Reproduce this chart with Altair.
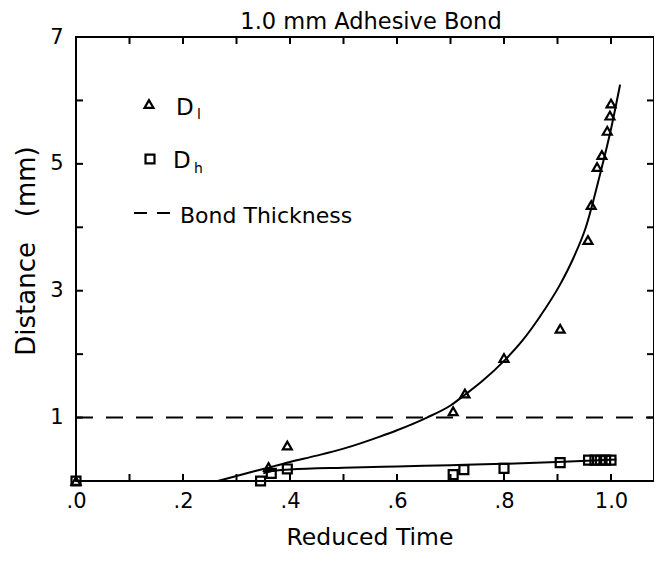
import altair as alt
import pandas as pd

# ---- data ----
dl_x = [0.0, 0.36, 0.395, 0.705, 0.727, 0.80, 0.905, 0.957, 0.963, 0.974, 0.983, 0.993, 0.998, 1.0]
dl_y = [0.0, 0.22, 0.56, 1.10, 1.38, 1.94, 2.40, 3.80, 4.35, 4.95, 5.14, 5.52, 5.76, 5.95]

dh_x = [0.0, 0.345, 0.365, 0.395, 0.705, 0.725, 0.80, 0.905, 0.958, 0.97, 0.98, 0.99, 1.0]
dh_y = [0.0, 0.0, 0.12, 0.19, 0.10, 0.18, 0.20, 0.29, 0.33, 0.33, 0.33, 0.33, 0.33]

fit_l_x = [0.265, 0.30, 0.35, 0.40, 0.45, 0.50, 0.568, 0.60, 0.656, 0.70, 0.727, 0.76, 0.802,
           0.835, 0.867, 0.905, 0.93, 0.953, 0.98, 1.0, 1.017]
fit_l_y = [0.0, 0.08, 0.19, 0.30, 0.40, 0.51, 0.70, 0.80, 1.00, 1.19, 1.36, 1.58, 1.91,
           2.22, 2.59, 3.10, 3.52, 4.00, 4.85, 5.55, 6.25]

fit_h_x = [0.35, 0.37, 0.40, 0.50, 0.60, 0.70, 0.80, 0.90, 1.01]
fit_h_y = [0.12, 0.16, 0.18, 0.21, 0.23, 0.25, 0.27, 0.30, 0.34]

bond_thickness = [1.0]

x_labels = [0.0, 0.2, 0.4, 0.6, 0.8, 1.0]
y_labels = [1, 3, 5, 7]
x_minor = [0.1, 0.2, 0.3, 0.4, 0.5, 0.6, 0.7, 0.8, 0.9, 1.0]
y_minor = [1, 2, 3, 4, 5, 6]

title_text = "1.0 mm Adhesive Bond"
x_title = "Reduced Time"
y_title = "Distance\u00a0\u00a0\u00a0(mm)"

# ---- layout ----
W, H = 578, 444
FONT = "DejaVu Sans"
TICK = 7
BLACK = "black"

xs = alt.Scale(domain=[0, 578 / 535], nice=False, zero=False)
ys = alt.Scale(domain=[0, 7], nice=False, zero=False)

x_axis = alt.Axis(values=x_labels, title=None, grid=False, ticks=False, domain=False,
                  labelFlush=False,
                  labelExpr="datum.value >= 1 ? format(datum.value, '.1f') : substring(format(datum.value, '.1f'), 1)",
                  labelFont=FONT, labelFontSize=21, labelColor=BLACK, labelPadding=9)
y_axis = alt.Axis(values=y_labels, title=None, grid=False, ticks=False, domain=False, format="d",
                  labelFlush=False,
                  labelFont=FONT, labelFontSize=21, labelColor=BLACK, labelPadding=13)

pts_l = pd.DataFrame({"x": dl_x, "y": dl_y})
pts_h = pd.DataFrame({"x": dh_x, "y": dh_y})
fl = pd.DataFrame({"x": fit_l_x, "y": fit_l_y})
fh = pd.DataFrame({"x": fit_h_x, "y": fit_h_y})

line_l = alt.Chart(fl).mark_line(color=BLACK, strokeWidth=2, interpolate="monotone").encode(
    x=alt.X("x:Q", scale=xs, axis=x_axis), y=alt.Y("y:Q", scale=ys, axis=y_axis))
line_h = alt.Chart(fh).mark_line(color=BLACK, strokeWidth=2, interpolate="monotone").encode(
    x=alt.X("x:Q", scale=xs), y=alt.Y("y:Q", scale=ys))

bond = alt.Chart(pd.DataFrame({"y": bond_thickness})).mark_rule(
    color=BLACK, strokeWidth=2, strokeDash=[17, 13]).encode(
    y=alt.Y("y:Q", scale=ys), x=alt.value(0), x2=alt.value(W))

MSIZE = 80
tri = alt.Chart(pts_l).mark_point(shape="triangle-up", filled=False, color=BLACK,
                                  strokeWidth=2.2, size=MSIZE, opacity=1).encode(
    x=alt.X("x:Q", scale=xs), y=alt.Y("y:Q", scale=ys))
sq = alt.Chart(pts_h).mark_point(shape="square", filled=False, color=BLACK,
                                 strokeWidth=2.2, size=MSIZE, opacity=1).encode(
    x=alt.X("x:Q", scale=xs), y=alt.Y("y:Q", scale=ys))

xt = pd.DataFrame({"x": x_minor})
yt = pd.DataFrame({"y": y_minor})
tick_bottom = alt.Chart(xt).mark_rule(color=BLACK, strokeWidth=2).encode(
    x=alt.X("x:Q", scale=xs), y=alt.value(H), y2=alt.value(H - TICK))
tick_top = alt.Chart(xt).mark_rule(color=BLACK, strokeWidth=2).encode(
    x=alt.X("x:Q", scale=xs), y=alt.value(0), y2=alt.value(TICK))
tick_left = alt.Chart(yt).mark_rule(color=BLACK, strokeWidth=2).encode(
    y=alt.Y("y:Q", scale=ys), x=alt.value(0), x2=alt.value(TICK))
tick_right = alt.Chart(yt).mark_rule(color=BLACK, strokeWidth=2).encode(
    y=alt.Y("y:Q", scale=ys), x=alt.value(W), x2=alt.value(W - TICK))

one = pd.DataFrame({"k": [0]})
leg_tri = alt.Chart(one).mark_point(shape="triangle-up", filled=False, color=BLACK,
                                    strokeWidth=2.2, size=MSIZE, opacity=1).encode(
    x=alt.value(73), y=alt.value(67))
leg_sq = alt.Chart(one).mark_point(shape="square", filled=False, color=BLACK,
                                   strokeWidth=2.2, size=MSIZE, opacity=1).encode(
    x=alt.value(74), y=alt.value(122))
leg_dash = alt.Chart(one).mark_rule(color=BLACK, strokeWidth=2, strokeDash=[13, 10]).encode(
    x=alt.value(58), x2=alt.value(95), y=alt.value(176), y2=alt.value(176))


def txt(s, x, y, size, align="left", angle=0):
    return alt.Chart(one).mark_text(text=s, font=FONT, fontSize=size, align=align,
                                    baseline="alphabetic", angle=angle).encode(
        x=alt.value(x), y=alt.value(y), color=alt.value(BLACK))


texts = [
    txt("D", 100, 78, 23), txt("l", 121, 82, 14),
    txt("D", 97, 131, 23), txt("h", 118, 136, 14),
    txt("Bond Thickness", 104, 186, 22),
    txt(title_text, 295, -8, 22.5, align="center"),
    txt(x_title, 294, 508, 23.5, align="center"),
    txt(y_title, -41, 214, 26, align="center", angle=270),
]

chart = alt.layer(
    bond, line_l, line_h, tri, sq,
    tick_bottom, tick_top, tick_left, tick_right,
    leg_tri, leg_sq, leg_dash, *texts
).properties(
    width=W, height=H,
    autosize=alt.AutoSizeParams(type="none"),
    padding={"left": 68, "top": 29, "right": 0, "bottom": 70},
    background="white",
).configure_view(stroke=BLACK, strokeWidth=2)

chart.save("out.html", embed_options={"renderer": "svg", "actions": False})
